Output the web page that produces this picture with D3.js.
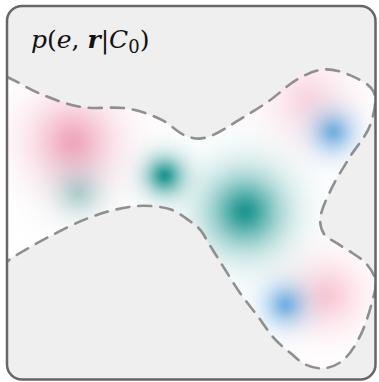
<!DOCTYPE html>
<html><head><meta charset="utf-8">
<script src="https://cdn.jsdelivr.net/npm/d3@7"></script>
<style>body{margin:0;background:#fff}svg{display:block}</style>
</head><body>
<script>
// ---- data (units: 0..100 chart space) ----
const blobNames  = ["pinkL","tealL","tealM","tealC","pinkTR","blueTR","blueBR","pinkBR"];
const blobX      = [17.8, 19.4, 42.8, 64.6, 81.5, 88.6, 75.5, 87.2];
const blobY      = [36.2, 50.0, 45.4, 55.0, 25.0, 33.8, 80.0, 77.4];
const blobScale  = [10.5, 6.0, 4.8, 9.6, 10.0, 5.2, 5.2, 8.6];
const blobAmp    = [0.75, 0.38, 0.95, 0.95, 0.42, 0.78, 0.78, 0.58];
const blobColor  = ["#ec8aa7","#3aa39c","#11908a","#11908a","#f2a2ba","#4ea3e2","#4ea3e2","#f7a3b8"];
// boundary of the support region (closed curve)
const boundX = [-6, 0, 9, 20, 33, 42, 48, 52, 56, 63, 71, 79, 86, 93, 99.5, 98.5, 93, 88, 85, 86, 89.5, 93.5, 97.5, 100, 99, 95.5, 91, 86, 81, 77, 72.5, 68, 63, 58.5, 55, 52.5, 49.5, 44.5, 37, 29.5, 21.5, 11, 2, -6, -10];
const boundY = [17, 19, 23.5, 27, 27.5, 30.5, 34.5, 35.5, 34.5, 30.5, 25.5, 19.5, 17.0, 18.5, 23, 32, 40.5, 49.0, 57, 61, 63.5, 66, 69, 73.5, 79.5, 89, 95, 97, 96, 93, 89, 83, 76.5, 69.5, 64, 60, 57.5, 54.5, 53.5, 54.5, 57, 62, 67, 72, 45];
const titleParts = ["p", "(", "e", ", ", "r", "|", "C", "0", ")"];

const W = 379, H = 382;
const frame = {x: 7, y: 6, w: 368.5, h: 373.5, r: 15};
const x = d3.scaleLinear().domain([0, 100]).range([frame.x, frame.x + frame.w]);
const y = d3.scaleLinear().domain([0, 100]).range([frame.y, frame.y + frame.h]);

const svg = d3.select("body").append("svg").attr("width", W).attr("height", H);
const defs = svg.append("defs");

defs.append("clipPath").attr("id", "frameClip")
  .append("rect").attr("x", frame.x).attr("y", frame.y).attr("width", frame.w).attr("height", frame.h)
  .attr("rx", frame.r);

const pts = boundX.map((d, i) => [x(d), y(boundY[i])]);
const lineGen = d3.line().curve(d3.curveCatmullRomClosed.alpha(0.5));
const shapeD = lineGen(pts);

defs.append("clipPath").attr("id", "shapeClip").append("path").attr("d", shapeD);

// background frame
svg.append("rect").attr("x", frame.x).attr("y", frame.y).attr("width", frame.w).attr("height", frame.h)
  .attr("rx", frame.r).attr("fill", "#efefef");

const inner = svg.append("g").attr("clip-path", "url(#frameClip)");
const dens = inner.append("g").attr("clip-path", "url(#shapeClip)").style("isolation", "isolate");
dens.append("path").attr("d", shapeD).attr("fill", "#ffffff");

const pxPerUnit = x(1) - x(0);
const EXT = 3.4, P = 1.6;
blobNames.forEach((n, i) => {
  const grad = defs.append("radialGradient").attr("id", "g_" + n)
    .attr("cx", 0.5).attr("cy", 0.5).attr("r", 0.5);
  const N = 24;
  for (let k = 0; k <= N; k++) {
    const t = k / N;
    const z = t * EXT;
    grad.append("stop").attr("offset", t)
      .attr("stop-color", blobColor[i])
      .attr("stop-opacity", blobAmp[i] * Math.exp(-Math.pow(z, P)));
  }
  dens.append("circle")
    .attr("cx", x(blobX[i])).attr("cy", y(blobY[i]))
    .attr("r", EXT * blobScale[i] * pxPerUnit)
    .attr("fill", "url(#g_" + n + ")")
    .style("mix-blend-mode", "multiply");
});

// dashed boundary
inner.append("path").attr("d", shapeD).attr("fill", "none")
  .attr("stroke", "#8f8f8f").attr("stroke-width", 2.6)
  .attr("stroke-dasharray", "13,9").attr("stroke-linecap", "round");

// frame border
svg.append("rect").attr("x", frame.x).attr("y", frame.y).attr("width", frame.w).attr("height", frame.h)
  .attr("rx", frame.r).attr("fill", "none").attr("stroke", "#666").attr("stroke-width", 2.5);

// title
const t = svg.append("text").attr("x", 31).attr("y", 48)
  .attr("font-family", "'DejaVu Serif', 'Liberation Serif', serif").attr("font-size", 25).attr("fill", "#111");
const styles = [
  {fs: "italic"}, {}, {fs: "italic"}, {}, {fs: "italic", fw: "bold"}, {}, {fs: "italic"}, {sub: true}, {}
];
titleParts.forEach((p, i) => {
  const s = styles[i];
  const ts = t.append("tspan").text(p);
  if (s.fs) ts.attr("font-style", s.fs);
  if (s.fw) ts.attr("font-weight", s.fw);
  if (s.sub) ts.attr("font-size", 18).attr("dy", 5);
  if (i === 8) ts.attr("dy", -5);
});
</script>
</body></html>
